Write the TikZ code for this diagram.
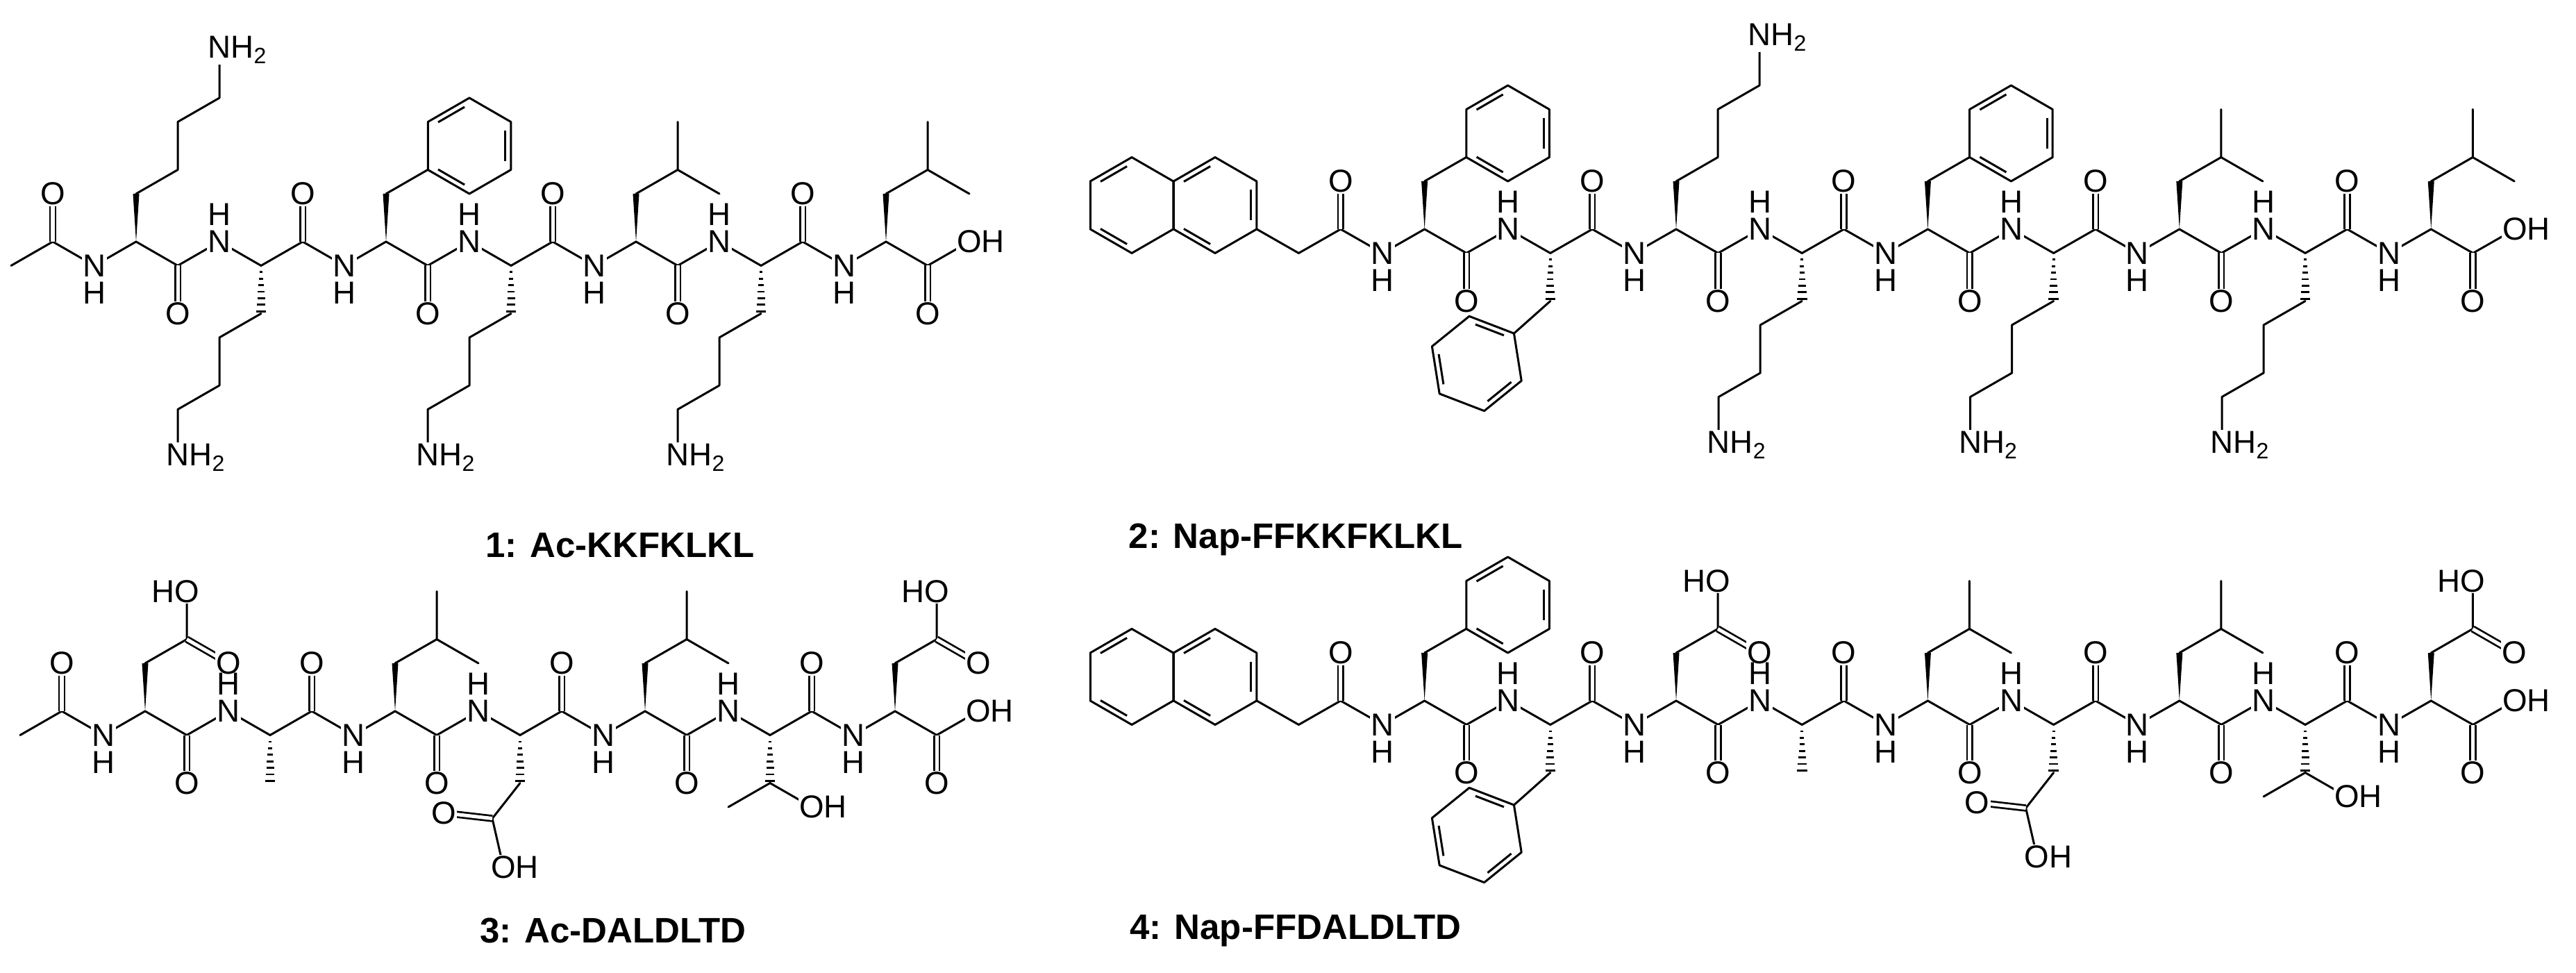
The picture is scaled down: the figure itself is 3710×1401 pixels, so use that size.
\documentclass[tikz,border=0pt]{standalone}
\usepackage{fontspec}
\setmainfont{Liberation Sans}
\newfontfamily\chemf{Liberation Sans}
\usetikzlibrary{calc}
\tikzset{
 bond/.style={line width=0.03cm,line cap=round,line join=round},
 dbl/.style={double,double distance=0.05cm,line width=0.027cm},
 atom/.style={fill=white,inner sep=0.4pt,font=\chemf\fontsize{13pt}{15pt}\selectfont},
 ttl/.style={font=\chemf\bfseries\fontsize{14.5pt}{17pt}\selectfont,inner sep=0pt},
 inner/.style={line width=0.03cm,shorten >=0.08cm,shorten <=0.08cm}
}
\newcommand\NHt{N\rlap{H\textsubscript{2}}}
\newcommand\mkchain[7]{%
 \foreach \i in {0,...,#7}{\pgfmathtruncatemacro\hh{mod(\i+#6,2)}%
  \ifnum\hh=0 \def\yy{#4}\else\def\yy{#5}\fi
  \coordinate (#1-\i) at ({#2+#3*\i},\yy);}
 \draw[bond] (#1-0) \foreach \i in {1,...,#7}{-- (#1-\i)};}
\newcommand\carb[3]{\foreach \i in {#2}{\pgfmathtruncatemacro\hh{mod(\i+#3,2)}%
  \ifnum\hh=0 \def\dd{-1}\else\def\dd{1}\fi
  \draw[dbl] (#1-\i) -- ++(0,{69*\dd}) node[atom]{O};}}
\newcommand\amide[3]{\foreach \i in {#2}{\pgfmathtruncatemacro\hh{mod(\i+#3,2)}%
  \ifnum\hh=0 \def\dd{-1}\else\def\dd{1}\fi
  \node[atom] at (#1-\i) {N};
  \node[atom,fill=none] at ($(#1-\i)+(0,{39*\dd})$) {H};}}
\newcommand\wup[1]{\fill (#1) -- ++(-4.5,-69) -- ++(9,0) -- cycle;}
\newcommand\hdn[1]{\foreach \k in {1,...,7}{\draw[line width=0.028cm] ($(#1)+({-1-0.9*\k},{9.4*\k})$) -- ++({2+1.8*\k},0);}}
\newcommand\lysU[1]{\wup{#1}\draw[bond] (#1) ++(0,-69) -- ++(60,-34.5) -- ++(0,-69) -- ++(60,-34.5) -- ++(0,-69) node[atom]{\NHt};}
\newcommand\lysD[1]{\hdn{#1}\draw[bond] (#1) ++(0,69) -- ++(-60,34.5) -- ++(0,69) -- ++(-60,34.5) -- ++(0,69) node[atom]{\NHt};}
\newcommand\leuU[1]{\wup{#1}\draw[bond] (#1) ++(0,-69) -- ++(60,-34.5) coordinate (tmp) -- ++(0,-69);\draw[bond] (tmp) -- ++(60,34.5);}
\newcommand\alaD[1]{\hdn{#1}}
\newcommand\thrD[1]{\hdn{#1}\draw[bond] (#1) ++(-60,103.5) -- ++(60,-34.5) -- ++(60,34.5) node[atom]{O\rlap{H}};}
\newcommand\aspU[1]{\wup{#1}\draw[bond] (#1) ++(0,-69) -- ++(60,-34.5) coordinate (tmp) -- ++(0,-69) node[atom]{\llap{H}O};\draw[dbl] (tmp) -- ++(60,34.5) node[atom]{O};}
\newcommand\aspD[1]{\hdn{#1}\draw[bond] (#1) ++(0,69) -- ++(-40,51) coordinate (tmp) -- ++(16,70) node[atom]{O\rlap{H}};\draw[dbl] (tmp) -- ++(-70,-8) node[atom]{O};}
\newcommand\hexa{\draw[bond] (-90:69) -- (-30:69) -- (30:69) -- (90:69) -- (150:69) -- (210:69) -- cycle;}
\newcommand\pheU[1]{\wup{#1}\draw[bond] (#1) ++(0,-69) -- ++(60,-34.5);
 \begin{scope}[shift={($(#1)+(120,-138)$)}]\hexa
 \draw[inner] (210:60) -- (270:60); \draw[inner] (-30:60) -- (30:60); \draw[inner] (90:60) -- (150:60);\end{scope}}
\newcommand\pheD[1]{\hdn{#1}
 \begin{scope}[shift={($(#1)+(-106,159)$)}]
 \draw[bond] (106,-90) -- (-39:69);
 \draw[bond] (-39:69) -- (-99:69) -- (-159:69) -- (-219:69) -- (-279:69) -- (-339:69) -- cycle;
 \draw[inner] (-39:60) -- (-99:60); \draw[inner] (-159:60) -- (-219:60); \draw[inner] (-279:60) -- (-339:60);\end{scope}}
\newcommand\naph[1]{\begin{scope}[shift={($(#1)+(-60,-34.5)$)}]\hexa
 \draw[inner] (210:60) -- (270:60); \draw[inner] (-30:60) -- (30:60); \draw[inner] (90:60) -- (150:60);\end{scope}
 \begin{scope}[shift={($(#1)+(-180,-34.5)$)}]\hexa
 \draw[inner] (210:60) -- (270:60); \draw[inner] (90:60) -- (150:60);\end{scope}}
\begin{document}
\begin{tikzpicture}[x=0.01cm,y=-0.01cm]
\useasboundingbox[fill=white] (0,0) rectangle (3710,1401);
% molecule 1
\mkchain{m1}{16}{60}{348}{382.5}{1}{23}
\lysU{m1-3}\lysD{m1-6}\pheU{m1-9}\lysD{m1-12}\leuU{m1-15}\lysD{m1-18}\leuU{m1-21}
\carb{m1}{1,4,...,22}{1}\amide{m1}{2,5,...,20}{1}
\node[atom] (oh1) at (m1-23) {O\rlap{H}};
% molecule 3
\mkchain{m3}{29}{60}{1024}{1058.5}{1}{23}
\aspU{m3-3}\alaD{m3-6}\leuU{m3-9}\aspD{m3-12}\leuU{m3-15}\thrD{m3-18}\aspU{m3-21}
\carb{m3}{1,4,...,22}{1}\amide{m3}{2,5,...,20}{1}
\node[atom] (oh3) at (m3-23) {O\rlap{H}};
% molecule 2
\mkchain{m2}{1810}{60.4}{330}{364.5}{0}{30}
\naph{m2-0}
\pheU{m2-4}\pheD{m2-7}\lysU{m2-10}\lysD{m2-13}\pheU{m2-16}\lysD{m2-19}\leuU{m2-22}\lysD{m2-25}\leuU{m2-28}
\carb{m2}{2,5,...,29}{0}\amide{m2}{3,6,...,27}{0}
\node[atom] (oh2) at (m2-30) {O\rlap{H}};
% molecule 4
\mkchain{m4}{1810}{60.4}{1009}{1043.5}{0}{30}
\naph{m4-0}
\pheU{m4-4}\pheD{m4-7}\aspU{m4-10}\alaD{m4-13}\leuU{m4-16}\aspD{m4-19}\leuU{m4-22}\thrD{m4-25}\aspU{m4-28}
\carb{m4}{2,5,...,29}{0}\amide{m4}{3,6,...,27}{0}
\node[atom] (oh4) at (m4-30) {O\rlap{H}};
% titles
\node[ttl] (t1) at (893,785) {1: Ac-KKFKLKL};
\node[ttl] (t2) at (1866,777) {2: Nap-FFKKFKLKL};
\node[ttl] (t3) at (883,1340) {3: Ac-DALDLTD};
\node[ttl] (t4) at (1866,1340) {4: Nap-FFDALDLTD};
\end{tikzpicture}
\end{document}
